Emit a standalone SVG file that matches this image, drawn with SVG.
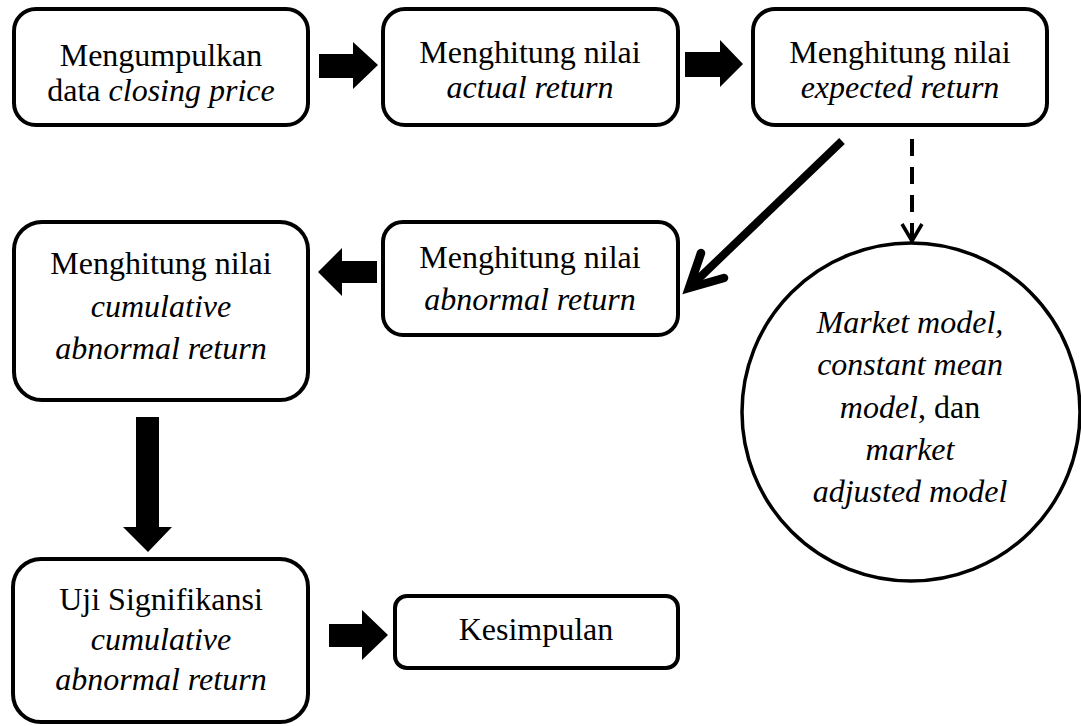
<svg xmlns="http://www.w3.org/2000/svg" width="1081" height="726" viewBox="0 0 1081 726">
<style>
.box{fill:#fff;stroke:#000;stroke-width:4}
.t{font-family:'Liberation Serif','Times New Roman',serif;font-size:32px;fill:#000;text-anchor:middle}
.i{font-style:italic}
.blk{fill:#000;stroke:none}
</style>
<rect width="1081" height="726" fill="#fff"/>
<g id="connectors">
  <polygon class="blk" points="319,54 353,54 353,42 378,65 353,89 353,78 319,78"/>
  <polygon class="blk" points="685,52 720,52 720,40 743,64 720,87 720,77 685,77"/>
  <polygon class="blk" points="377,261 342,261 342,248 318,272 342,296 342,283 377,283"/>
  <polygon class="blk" points="136,417 159,417 159,527 172,527 148,552 123,527 136,527"/>
  <polygon class="blk" points="329,624 362,624 362,610 388,635 362,660 362,647 329,647"/>
  <line x1="842" y1="141" x2="693" y2="284" stroke="#000" stroke-width="8"/>
  <polyline points="701,253 689,288 724,278" fill="none" stroke="#000" stroke-width="8.5" stroke-linejoin="miter" stroke-linecap="round"/>
  <line x1="912" y1="139" x2="912" y2="238" stroke="#000" stroke-width="4" stroke-dasharray="17,11"/>
  <polyline points="902,224 912,241 922,224" fill="none" stroke="#000" stroke-width="3.5"/>
</g>
<g id="node-closing">
  <rect class="box" x="14" y="9" width="294" height="116" rx="22"/>
  <text class="t" x="161" y="66">Mengumpulkan</text>
  <text class="t" x="161" y="101">data <tspan class="i">closing price</tspan></text>
</g>
<g id="node-actual">
  <rect class="box" x="383" y="9" width="295" height="116" rx="22"/>
  <text class="t" x="530" y="63">Menghitung nilai</text>
  <text class="t i" x="530" y="98">actual return</text>
</g>
<g id="node-expected">
  <rect class="box" x="753" y="9" width="294" height="116" rx="22"/>
  <text class="t" x="900" y="63">Menghitung nilai</text>
  <text class="t i" x="900" y="98">expected return</text>
</g>
<g id="node-abnormal">
  <rect class="box" x="383" y="222" width="295" height="113" rx="20"/>
  <text class="t" x="530" y="268">Menghitung nilai</text>
  <text class="t i" x="530" y="310">abnormal return</text>
</g>
<g id="node-cumulative">
  <rect class="box" x="14" y="222" width="294" height="178" rx="28"/>
  <text class="t" x="161" y="274">Menghitung nilai</text>
  <text class="t i" x="161" y="317">cumulative</text>
  <text class="t i" x="161" y="359">abnormal return</text>
</g>
<g id="node-models">
  <circle cx="911" cy="412" r="169" fill="#fff" stroke="#000" stroke-width="3.5"/>
  <text class="t i" x="910" y="333">Market model,</text>
  <text class="t i" x="910" y="375">constant mean</text>
  <text class="t" x="910" y="418"><tspan class="i">model</tspan>, dan</text>
  <text class="t i" x="910" y="460">market</text>
  <text class="t i" x="910" y="502">adjusted model</text>
</g>
<g id="node-uji">
  <rect class="box" x="13" y="559" width="295" height="163" rx="28"/>
  <text class="t" x="161" y="610">Uji Signifikansi</text>
  <text class="t i" x="161" y="650">cumulative</text>
  <text class="t i" x="161" y="690">abnormal return</text>
</g>
<g id="node-kesimpulan">
  <rect class="box" x="395" y="596" width="283" height="72" rx="12"/>
  <text class="t" x="536" y="640">Kesimpulan</text>
</g>
</svg>
